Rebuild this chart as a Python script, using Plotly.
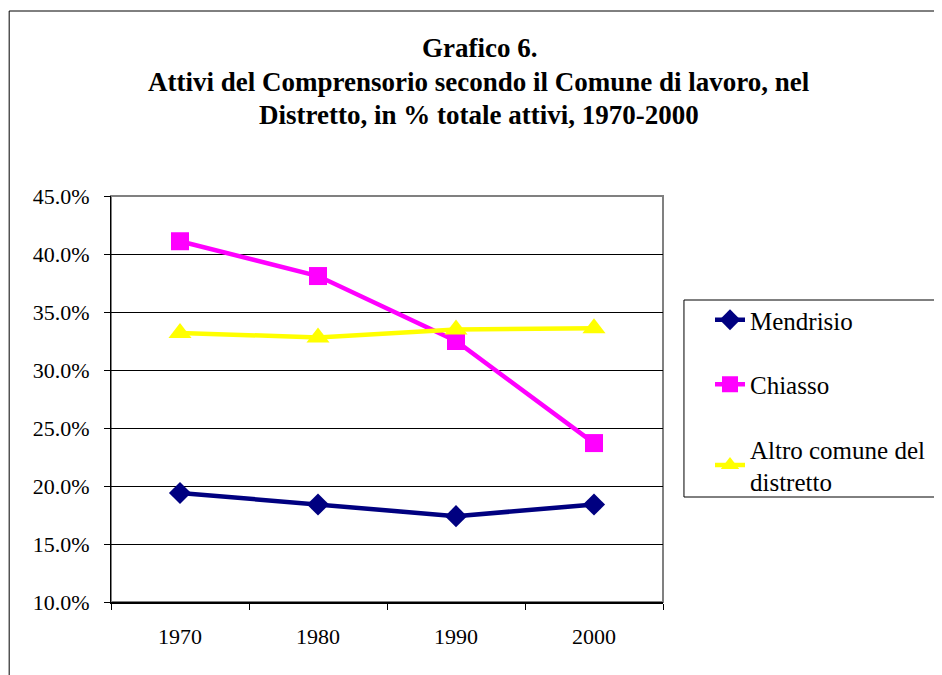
import plotly.graph_objects as go

# data
years = ["1970", "1980", "1990", "2000"]
mendrisio = [0.194, 0.184, 0.174, 0.184]
chiasso = [0.411, 0.381, 0.325, 0.237]
altro = [0.332, 0.328, 0.335, 0.336]

series_names = ["Mendrisio", "Chiasso", "Altro comune del<br>distretto"]
title_lines = [
    "Grafico 6.",
    "Attivi del Comprensorio secondo il Comune di lavoro, nel",
    "Distretto, in % totale attivi, 1970-2000",
]

SERIF = "Liberation Serif"

# plot area in reference pixels: x 111..664, y 196..602
def px(x):
    return (x - 111) / 553

def py(y):
    return (602 - y) / 406

fig = go.Figure()

styles = [
    ("#000080", "diamond", 17),
    ("#FF00FF", "square", 18),
    ("#FFFF00", "triangle-up", 20),
]
for i, (vals, name) in enumerate(zip([mendrisio, chiasso, altro], series_names)):
    color, symbol, size = styles[i]
    fig.add_trace(go.Scatter(
        x=years, y=vals, name=name,
        mode="lines+markers",
        line=dict(color=color, width=4.5),
        marker=dict(color=color, symbol=symbol, size=size),
        legendgroup=f"g{i}",
        hoverinfo="skip",
    ))

# plot frame (grey on top/right)
fig.add_shape(type="rect", xref="paper", yref="paper", x0=0, x1=1, y0=0, y1=1,
              line=dict(color="#808080", width=2), layer="below")

# outer chart-area border, runs off the image to the right and bottom
fig.add_shape(type="path", xref="paper", yref="paper",
              path=f"M {px(9)} -1 L {px(9)} {py(11)} L 2 {py(11)}",
              line=dict(color="black", width=1))

# legend box, cut off by the right edge
fig.add_shape(type="rect", xref="paper", yref="paper",
              x0=px(685), x1=2, y0=py(497), y1=py(300),
              line=dict(color="black", width=1), fillcolor="white")

title_y = [48, 82, 115]
for txt, ty in zip(title_lines, title_y):
    fig.add_annotation(
        xref="paper", yref="paper",
        x=px(480), y=py(ty),
        text=f"<b>{txt}</b>", showarrow=False,
        xanchor="center", yanchor="middle",
        font=dict(family=SERIF, size=27, color="black"),
    )

fig.update_layout(
    width=934, height=667,
    margin=dict(l=103, r=278, t=188, b=73),
    plot_bgcolor="white", paper_bgcolor="white",
    font=dict(family=SERIF, size=22, color="black"),
    showlegend=True,
    legend=dict(
        x=px(710), y=py(297),
        xanchor="left", yanchor="top",
        bgcolor="rgba(0,0,0,0)", borderwidth=0,
        font=dict(family=SERIF, size=25, color="black"),
        traceorder="grouped", tracegroupgap=29,
        itemsizing="trace",
    ),
    xaxis=dict(
        type="category", tickson="boundaries",
        ticks="outside", ticklen=6, tickcolor="black",
        showgrid=False, showline=True, linecolor="black", linewidth=2,
        zeroline=False, range=[-0.5, 3.5],
        tickfont=dict(family=SERIF, size=22),
        ticklabelstandoff=14,
    ),
    yaxis=dict(
        range=[0.10, 0.45], dtick=0.05, tick0=0.10, tickformat=".1%",
        ticks="outside", ticklen=6, tickcolor="black",
        showgrid=True, gridcolor="black", gridwidth=1,
        showline=True, linecolor="black", linewidth=1,
        zeroline=False,
        tickfont=dict(family=SERIF, size=22),
        ticklabelstandoff=10,
    ),
)

fig.write_html("out.html")
